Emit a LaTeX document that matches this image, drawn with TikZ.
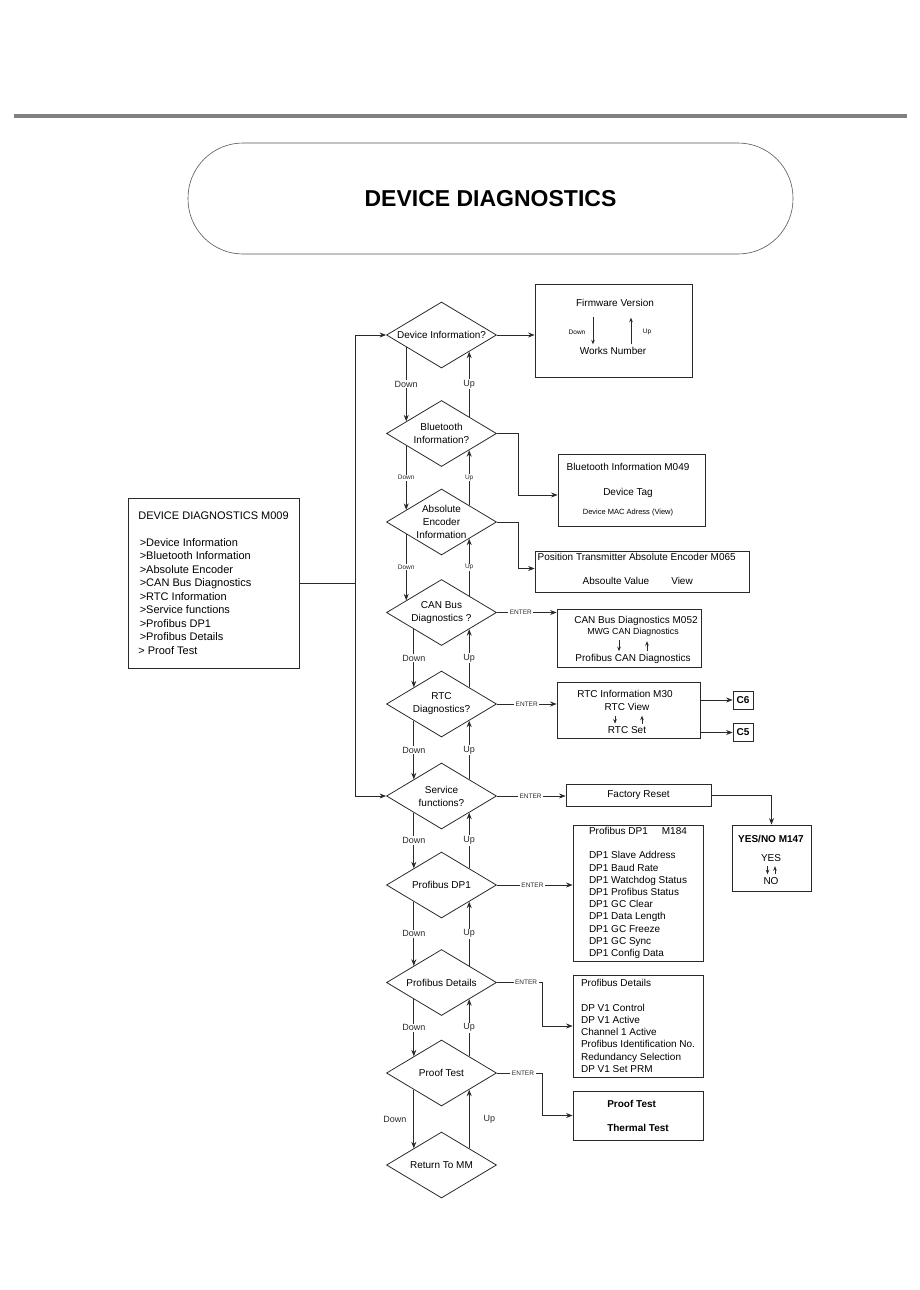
\documentclass[tikz,border=0pt]{standalone}
\usepackage{fontspec}
\setmainfont{Liberation Sans}
\usepackage{tikz}
\usetikzlibrary{arrows.meta, shapes.geometric, positioning, calc}
\definecolor{C_LINE}{HTML}{2A2A2A}
\definecolor{C_RULE}{HTML}{808080}
\tikzset{
  %% -- info / menu boxes --
  dd/box/.style={draw=C_LINE, line width=0.8pt, fill=white, inner sep=0pt,
    font=\fontsize{10}{12}\selectfont},
  %% -- boxes holding a left aligned list --
  dd/list/.style={align=left, font=\fontsize{10}{12.2}\selectfont},
  %% -- decision diamonds --
  dd/dia/.style={diamond, draw=C_LINE, line width=0.8pt, aspect=1.667,
    minimum width=110pt, minimum height=66pt, inner sep=0pt, align=center,
    font=\fontsize{10}{13}\selectfont},
  %% -- single line texts inside boxes --
  dd/txt/.style={inner sep=0pt, text height=7pt, text depth=2pt,
    font=\fontsize{10}{12}\selectfont},
  dd/mid/.style={inner sep=0pt, text height=6pt, text depth=2pt,
    font=\fontsize{8.8}{10}\selectfont},
  dd/small/.style={inner sep=0pt, text height=5pt, text depth=1.5pt,
    font=\fontsize{7.5}{9}\selectfont},
  dd/tiny/.style={inner sep=0pt, font=\fontsize{6.5}{8}\selectfont},
  %% -- connectors --
  dd/arr/.style={-{Stealth[length=6.5pt,width=5pt]}, line width=0.8pt, C_LINE},
  dd/tarr/.style={-{Stealth[length=4.5pt,width=3.6pt]}, line width=0.8pt, C_LINE},
  dd/line/.style={line width=0.8pt, C_LINE},
  %% -- labels on connectors --
  dd/lbl/.style={fill=white, inner sep=1pt, font=\fontsize{9}{10}\selectfont},
  dd/lbls/.style={fill=white, inner sep=0.5pt, font=\fontsize{6.5}{8}\selectfont},
  dd/enter/.style={fill=white, inner sep=1.5pt, font=\fontsize{6.5}{8}\selectfont},
}

\begin{document}
\begin{tikzpicture}[x=1pt, y=-1pt]
\useasboundingbox (0,0) rectangle (920,1290);

%% Header rule and title
\draw[C_RULE, line width=4pt] (14,116) -- (907,116);
\node[draw=C_LINE!80, line width=0.6pt, rounded corners=55pt,
  minimum width=605pt, minimum height=111pt,
  font=\bfseries\fontsize{23}{26}\selectfont] (title) at (490.5,198.5)
  {DEVICE DIAGNOSTICS};

%% Main menu
\node[dd/box, align=left, font=\fontsize{11}{13.5}\selectfont,
  minimum width=171pt, minimum height=170pt] (menu) at (213.5,583)
  {DEVICE DIAGNOSTICS M009\\[13.5pt]
   \hspace*{1.5pt}>Device Information\\
   \hspace*{1.5pt}>Bluetooth Information\\
   \hspace*{1.5pt}>Absolute Encoder\\
   \hspace*{1.5pt}>CAN Bus Diagnostics\\
   \hspace*{1.5pt}>RTC Information\\
   \hspace*{1.5pt}>Service functions\\
   \hspace*{1.5pt}>Profibus DP1\\
   \hspace*{1.5pt}>Profibus Details\\
   > Proof Test};

%% Choices
\node[dd/dia] (dev) at (441.5,335)   {Device Information?};
\node[dd/dia] (bt)  at (441.5,433.5) {Bluetooth\\Information?};
\node[dd/dia] (abs) at (441.5,522)   {Absolute\\Encoder\\Information};
\node[dd/dia] (can) at (441.5,612.5) {CAN Bus\\Diagnostics ?};
\node[dd/dia] (rtc) at (441.5,704)   {RTC\\Diagnostics?};
\node[dd/dia] (svc) at (441.5,796)   {Service\\functions?};
\node[dd/dia] (dp1) at (441.5,885)   {Profibus DP1};
\node[dd/dia] (det) at (441.5,982.5) {Profibus Details};
\node[dd/dia] (prf) at (441.5,1073)  {Proof Test};
\node[dd/dia] (ret) at (441.5,1165)  {Return To MM};

%% Menu into the choices
\coordinate (jn) at (355,583);
\draw[dd/line] (menu.east) -- (jn);
\draw[dd/arr] (jn) |- (dev.west);
\draw[dd/arr] (jn) |- (svc.west);

%% Down / Up between the choices
\draw[dd/arr] (dev.199) -- node[dd/lbl]{Down} (bt.161);
\draw[dd/arr] (bt.north east) -- node[dd/lbl]{Up} (dev.south east);
\draw[dd/arr] (bt.199) -- node[dd/lbls]{Down} (abs.161);
\draw[dd/arr] (abs.north east) -- node[dd/lbls]{Up} (bt.south east);
\draw[dd/arr] (abs.199) -- node[dd/lbls]{Down} (can.161);
\draw[dd/arr] (can.north east) -- node[dd/lbls]{Up} (abs.south east);
\draw[dd/arr] (can.south west) -- node[dd/lbl]{Down} (rtc.north west);
\draw[dd/arr] (rtc.north east) -- node[dd/lbl]{Up} (can.south east);
\draw[dd/arr] (rtc.south west) -- node[dd/lbl]{Down} (svc.north west);
\draw[dd/arr] (svc.north east) -- node[dd/lbl]{Up} (rtc.south east);
\draw[dd/arr] (svc.south west) -- node[dd/lbl]{Down} (dp1.north west);
\draw[dd/arr] (dp1.north east) -- node[dd/lbl]{Up} (svc.south east);
\draw[dd/arr] (dp1.south west) -- node[dd/lbl]{Down} (det.north west);
\draw[dd/arr] (det.north east) -- node[dd/lbl]{Up} (dp1.south east);
\draw[dd/arr] (det.south west) -- node[dd/lbl]{Down} (prf.north west);
\draw[dd/arr] (prf.north east) -- node[dd/lbl]{Up} (det.south east);
\draw[dd/arr] (prf.south west) -- node[dd/lbl, left=6pt]{Down} (ret.north west);
\draw[dd/arr] (ret.north east) -- node[dd/lbl, right=13pt]{Up} (prf.south east);

%% Device information
\node[dd/box, minimum width=157pt, minimum height=93pt] (fw) at (613.5,330.5) {};
\node[dd/txt] (fwv) at (615,304) {Firmware Version};
\node[dd/txt] (wkn) at (613,352) {Works Number};
\node[dd/tiny] (fwdn) at (577,332) {Down};
\node[dd/tiny] (fwup) at (647,332) {Up};
\draw[dd/tarr] ($(fwv.south)+(-22,8)$) -- ($(fwv.south |- wkn.north)+(-22,-3)$);
\draw[dd/tarr] ($(fwv.south |- wkn.north)+(16,-3)$) -- ($(fwv.south)+(16,9)$);
\draw[dd/arr] (dev.east) -- (dev.east -| fw.west);

%% Bluetooth information
\node[dd/box, minimum width=147pt, minimum height=72pt] (btbox) at (631.5,490) {};
\node[dd/txt] (bti) at (628,468) {Bluetooth Information M049};
\node[dd/txt] (btt) at (628,493) {Device Tag};
\node[dd/small] (btm) at (628,513) {Device MAC Adress (View)};
\draw[dd/arr] (bt.east) -- ++(21,0) |- ([yshift=-5pt]btbox.west);

%% Absolute encoder
\node[dd/box, minimum width=214pt, minimum height=41pt] (posbox) at (642,571.5) {};
\node[dd/txt, anchor=west] (post) at (537.5,557.5)
  {Position Transmitter Absolute Encoder M065};
\node[dd/txt] (posv) at (616,582) {Absoulte Value};
\node[dd/txt] (posw) at (682,582) {View};
\draw[dd/arr] (abs.east) -- ++(21,0) |- ([yshift=3pt]posbox.west);

%% CAN bus
\node[dd/box, minimum width=144pt, minimum height=58pt] (canbox) at (629,638) {};
\node[dd/txt] (canh) at (636,621) {CAN Bus Diagnostics M052};
\node[dd/mid] (canm) at (633,632) {MWG CAN Diagnostics};
\node[dd/txt] (canp) at (633,659) {Profibus CAN Diagnostics};
\draw[dd/tarr] ($(canm.south)+(-14,4)$) -- ($(canm.south)+(-14,15)$);
\draw[dd/tarr] ($(canm.south)+(14,15)$) -- ($(canm.south)+(14,5)$);
\draw[dd/arr] (can.east) -- node[dd/enter, pos=0.4]{ENTER} (can.east -| canbox.west);

%% RTC
\node[dd/box, minimum width=143pt, minimum height=56pt] (rtcbox) at (628.5,710) {};
\node[dd/txt] (rtch) at (625,695) {RTC Information M30};
\node[dd/txt] (rtcv) at (627,708) {RTC View};
\node[dd/txt] (rtcs) at (627,731) {RTC Set};
\draw[dd/tarr] ($(rtcv.south)+(-12,3)$) -- ($(rtcv.south)+(-12,11)$);
\draw[dd/tarr] ($(rtcv.south)+(15,11)$) -- ($(rtcv.south)+(15,3)$);
\draw[dd/arr] (rtc.east) -- node[dd/enter]{ENTER} (rtc.east -| rtcbox.west);
\node[dd/box, font=\bfseries\fontsize{10}{12}\selectfont,
  minimum width=20pt, minimum height=18pt] (c6) at (743,700) {C6};
\node[dd/box, font=\bfseries\fontsize{10}{12}\selectfont,
  minimum width=20pt, minimum height=18pt] (c5) at (743,732.5) {C5};
\draw[dd/arr] (rtcbox.east |- c6.west) -- (c6.west);
\draw[dd/arr] (rtcbox.east |- c5.west) -- (c5.west);

%% Service functions
\node[dd/box, minimum width=145pt, minimum height=22pt] (frbox) at (638.5,795)
  {Factory Reset};
\draw[dd/arr] (svc.east) -- node[dd/enter, pos=0.49]{ENTER} (svc.east -| frbox.west);
\node[dd/box, minimum width=79pt, minimum height=66pt] (yn) at (771.5,858) {};
\node[dd/txt, font=\bfseries\fontsize{10}{12}\selectfont] (ynh) at (771,840)
  {YES/NO M147};
\node[dd/txt] (yny) at (771,859) {YES};
\node[dd/txt] (ynn) at (771,882) {NO};
\draw[dd/tarr] ($(yny.south)+(-3.5,2.5)$) -- ($(yny.south)+(-3.5,10.5)$);
\draw[dd/tarr] ($(yny.south)+(4,10.5)$) -- ($(yny.south)+(4,2.5)$);
\draw[dd/arr] (frbox.east) -| (yn.north);

%% Profibus DP1
\node[dd/box, dd/list, minimum width=130pt, minimum height=136pt] (dp1box)
  at (638,893)
  {Profibus DP1\hspace{14pt}M184\\[12.2pt]
   DP1 Slave Address\\
   DP1 Baud Rate\\
   DP1 Watchdog Status\\
   DP1 Profibus Status\\
   DP1 GC Clear\\
   DP1 Data Length\\
   DP1 GC Freeze\\
   DP1 GC Sync\\
   DP1 Config Data};
\draw[dd/arr] (dp1.east) -- node[dd/enter, pos=0.47]{ENTER} (dp1.east -| dp1box.west);

%% Profibus details
\node[dd/box, dd/list, minimum width=130pt, minimum height=102pt] (detbox)
  at (638,1026)
  {Profibus Details\\[12.2pt]
   DP V1 Control\\
   DP V1 Active\\
   Channel 1 Active\\
   Profibus Identification No.\\
   Redundancy Selection\\
   DP V1 Set PRM};
\draw[dd/arr] (det.east) -- node[dd/enter, pos=0.65]{ENTER} ++(45,0) |- (detbox.west);

%% Proof test
\node[dd/box, align=left, font=\bfseries\fontsize{10}{12}\selectfont,
  minimum width=130pt, minimum height=49pt] (prfbox) at (638,1115.5)
  {Proof Test\\[12pt]Thermal Test};
\draw[dd/arr] (prf.east) -- node[dd/enter, pos=0.58]{ENTER} ++(45,0) |- (prfbox.west);
\end{tikzpicture}
\end{document}
